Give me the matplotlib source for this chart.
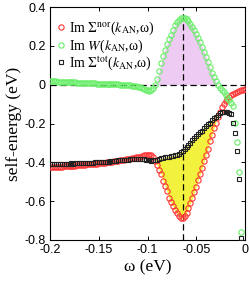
import numpy as np
import matplotlib
matplotlib.use("Agg")
import matplotlib.pyplot as plt

plt.rcParams['axes.unicode_minus'] = False
plt.rcParams['mathtext.fontset'] = 'stix'

# energy grid (eV), 0.002 eV step
omega = np.linspace(-0.2, 0.0, 101)

# Im Sigma^nor(k_AN, w)
sigma_nor = [
    -0.425, -0.425, -0.424, -0.424, -0.423, -0.423, -0.422, -0.421, -0.421, -0.420,
    -0.419, -0.418, -0.418, -0.417, -0.416, -0.415, -0.414, -0.413, -0.412, -0.411,
    -0.410, -0.409, -0.408, -0.407, -0.406, -0.405, -0.404, -0.402, -0.401, -0.400,
    -0.399, -0.397, -0.396, -0.394, -0.393, -0.391, -0.390, -0.388, -0.386, -0.385,
    -0.383, -0.381, -0.379, -0.377, -0.375, -0.372, -0.370, -0.367, -0.364, -0.362,
    -0.360, -0.360, -0.364, -0.374, -0.392, -0.415, -0.440, -0.460, -0.495, -0.520,
    -0.550, -0.585, -0.605, -0.625, -0.645, -0.660, -0.675, -0.685, -0.688, -0.675,
    -0.660, -0.635, -0.610, -0.585, -0.555, -0.525, -0.490, -0.460, -0.430, -0.395,
    -0.360, -0.330, -0.290, -0.260, -0.225, -0.195, -0.165, -0.140, -0.115, -0.098,
    -0.085, -0.072, -0.062, -0.054, -0.047, -0.042, -0.037, -0.033, -0.029, -0.026,
    -0.023]

# Im W(k_AN, w)
im_w = [
    0.018, 0.018, 0.017, 0.017, 0.016, 0.016, 0.015, 0.015, 0.014, 0.014,
    0.013, 0.013, 0.012, 0.012, 0.011, 0.011, 0.010, 0.010, 0.009, 0.009,
    0.008, 0.008, 0.007, 0.007, 0.006, 0.006, 0.005, 0.005, 0.004, 0.004,
    0.003, 0.003, 0.002, 0.002, 0.001, 0.001, 0.000, 0.000, -0.001, -0.002,
    -0.003, -0.004, -0.005, -0.007, -0.009, -0.011, -0.014, -0.017, -0.021, -0.025,
    -0.028, -0.030, -0.027, -0.018, 0.000, 0.030, 0.070, 0.110, 0.150, 0.180,
    0.210, 0.235, 0.258, 0.282, 0.305, 0.322, 0.335, 0.342, 0.345, 0.343,
    0.337, 0.328, 0.315, 0.298, 0.280, 0.262, 0.240, 0.218, 0.195, 0.170,
    0.143, 0.117, 0.090, 0.062, 0.038, 0.018, 0.000, -0.015, -0.028, -0.038,
    -0.052, -0.070, -0.080, -0.095, -0.108, -0.199, -0.294, -0.450, -0.757, -1.300,
    -2.500]

# Im Sigma^tot(k_AN, w)
sigma_tot = [
    -0.407, -0.407, -0.407, -0.407, -0.407, -0.407, -0.407, -0.406, -0.407, -0.406,
    -0.406, -0.405, -0.406, -0.405, -0.405, -0.404, -0.404, -0.403, -0.403, -0.402,
    -0.402, -0.401, -0.401, -0.400, -0.400, -0.399, -0.399, -0.397, -0.397, -0.396,
    -0.396, -0.394, -0.394, -0.392, -0.392, -0.390, -0.390, -0.388, -0.387, -0.387,
    -0.386, -0.385, -0.384, -0.384, -0.384, -0.383, -0.384, -0.384, -0.385, -0.387,
    -0.388, -0.390, -0.391, -0.390, -0.388, -0.386, -0.383, -0.380, -0.377, -0.374,
    -0.372, -0.370, -0.368, -0.366, -0.364, -0.361, -0.356, -0.348, -0.340, -0.332,
    -0.322, -0.310, -0.298, -0.286, -0.276, -0.266, -0.256, -0.246, -0.236, -0.225,
    -0.215, -0.205, -0.195, -0.184, -0.174, -0.165, -0.156, -0.148, -0.142, -0.139,
    -0.139, -0.142, -0.146, -0.153, -0.199, -0.250, -0.340, -0.487, -0.791, -1.350,
    -2.500]

omega_kink = -0.064

xticks = [-0.2, -0.15, -0.1, -0.05, 0]
xticklabels = ['-0.2', '-0.15', '-0.1', '-0.05', '0']
yticks = [0.4, 0.2, 0, -0.2, -0.4, -0.6, -0.8]
yticklabels = ['0.4', '0.2', '0', '-0.2', '-0.4', '-0.6', '-0.8']

nor = np.array(sigma_nor)
w = np.array(im_w)
tot = np.array(sigma_tot)

fig = plt.figure(figsize=(2.49, 2.82), dpi=100)
ax = fig.add_axes([0.201, 0.149, 0.783, 0.826])

# shaded areas
ax.fill_between(omega, 0, w, where=(w > 0) & (omega > -0.095),
                color='#eecbf2', linewidth=0, zorder=1)
ax.fill_between(omega, nor, tot, where=(nor < tot) & (omega > -0.095),
                color='#f2f23e', linewidth=0, zorder=1)

ax.axhline(0, color='k', ls=(0, (5, 3)), lw=0.9, zorder=2)
ax.axvline(omega_kink, color='k', ls=(0, (5, 3)), lw=0.9, zorder=2)

ax.plot(omega, nor, 'o', ms=3.8, mfc='none', mec='#ff3333', mew=0.8,
        label=r'Im $\Sigma^{\rm nor}$($k_{\rm AN}$,ω)', zorder=3)
ax.plot(omega, w, 'o', ms=3.8, mfc='none', mec='#66ee66', mew=0.8,
        label=r'Im $W$($k_{\rm AN}$,ω)', zorder=3)
ax.plot(omega, tot, 's', ms=3.5, mfc='none', mec='#222222', mew=0.8,
        label=r'Im $\Sigma^{\rm tot}$($k_{\rm AN}$,ω)', zorder=4)

ax.set_xlim(-0.2, 0)
ax.set_ylim(-0.8, 0.4)
ax.set_xticks(xticks)
ax.set_xticklabels(xticklabels, family='Liberation Sans', fontsize=9)
ax.set_yticks(yticks)
ax.set_yticklabels(yticklabels, family='Liberation Sans', fontsize=9)
ax.tick_params(direction='in', length=3, width=0.7, top=True, right=True, pad=3)
for sp in ax.spines.values():
    sp.set_linewidth(0.8)

ax.set_xlabel('ω (eV)', family='Liberation Serif', fontsize=12.5, labelpad=2)
ax.set_ylabel('self-energy (eV)', family='Liberation Serif', fontsize=12.5, labelpad=2)

leg = ax.legend(loc='upper left', bbox_to_anchor=(-0.01, 0.98), frameon=False,
                handlelength=0.6, handletextpad=0.3, labelspacing=0.0,
                borderaxespad=0.2, prop={'family': 'Liberation Serif', 'size': 10})

fig.savefig('out.png', dpi=100)
